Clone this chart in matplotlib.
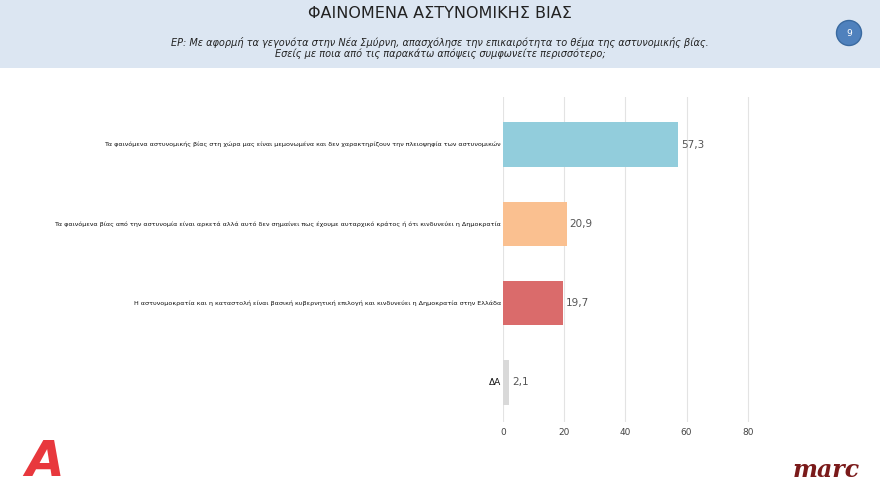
import matplotlib.pyplot as plt
from matplotlib.patches import Rectangle, Ellipse

plt.rcParams['font.family'] = ['DejaVu Sans']

titlos = "ΦΑΙΝΟΜΕΝΑ ΑΣΤΥΝΟΜΙΚΗΣ ΒΙΑΣ"
erotisi = ("ΕΡ: Με αφορμή τα γεγονότα στην Νέα Σμύρνη, απασχόλησε την επικαιρότητα το θέμα της αστυνομικής βίας.\n"
           "Εσείς με ποια από τις παρακάτω απόψεις συμφωνείτε περισσότερο;")

apopseis = [
    "Τα φαινόμενα αστυνομικής βίας στη χώρα μας είναι μεμονωμένα και δεν χαρακτηρίζουν την πλειοψηφία των αστυνομικών",
    "Τα φαινόμενα βίας από την αστυνομία είναι αρκετά αλλά αυτό δεν σημαίνει πως έχουμε αυταρχικό κράτος ή ότι κινδυνεύει η Δημοκρατία",
    "Η αστυνομοκρατία και η καταστολή είναι βασική κυβερνητική επιλογή και κινδυνεύει η Δημοκρατία στην Ελλάδα",
    "ΔΑ",
]
pososta = [57.3, 20.9, 19.7, 2.1]
xromata = ["#92cddc", "#fac090", "#da6b6b", "#d9d9d9"]
xticks = [0, 20, 40, 60, 80]

W, H = 880, 495
fig = plt.figure(figsize=(8.8, 4.95), dpi=100)

# otsikkokaista
fig.patches.append(Rectangle((0, 1 - 68 / H), 1, 68 / H, transform=fig.transFigure,
                             facecolor="#dce6f2", edgecolor="none", zorder=0))
fig.text(0.5, 1 - 14 / H, titlos, ha="center", va="center", fontsize=11.5, color="#222222")
fig.text(0.5, 1 - 48 / H, erotisi, ha="center", va="center", fontsize=7, style="italic",
         color="#222222", linespacing=1.1)
fig.patches.append(Ellipse((849 / W, 1 - 33 / H), 25 / W, 25 / H, transform=fig.transFigure,
                           facecolor="#4f81bd", edgecolor="#3a6aa0", zorder=2))
fig.text(849 / W, 1 - 33 / H, "9", ha="center", va="center", fontsize=6.5, color="white", zorder=3)

ax = fig.add_axes([503 / W, 1 - 422 / H, 260 / W, 325 / H])
y = list(range(len(pososta)))
ax.barh(y, pososta, height=0.56, color=xromata, zorder=2)
ax.set_ylim(3.5, -0.6)
ax.set_xlim(0, 85)
ax.set_xticks(xticks)
ax.tick_params(axis="x", length=0, labelsize=6.5, labelcolor="#444444", pad=4)
ax.set_yticks([])
ax.grid(axis="x", color="#e3e3e3", linewidth=0.8, zorder=0)
for s in ax.spines.values():
    s.set_visible(False)

for i, (nimi, arvo) in enumerate(zip(apopseis, pososta)):
    koko = 6.5 if nimi == "ΔΑ" else 4.6
    ax.text(-0.7, i, nimi, ha="right", va="center", fontsize=koko, color="#111111")
    ax.text(arvo + 0.8, i, f"{arvo:.1f}".replace(".", ","), ha="left", va="center",
            fontsize=7.5, color="#555555")

# logot
fig.text(45 / W, 1 - 462 / H, "A", ha="center", va="center", fontsize=36, fontweight="bold",
         style="italic", color="#e8383d")
fig.text(826 / W, 1 - 470 / H, "marc", ha="center", va="center", fontsize=17,
         family="DejaVu Serif", style="italic", fontweight="bold", color="#7a1a1a")

fig.savefig("out.png", dpi=100)
